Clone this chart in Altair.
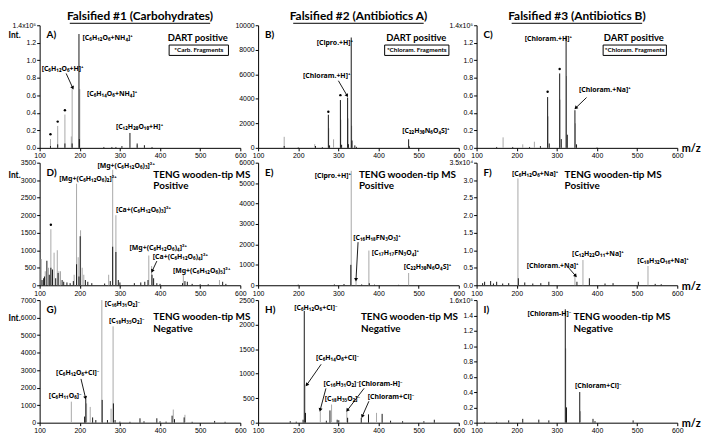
import math
import altair as alt
import pandas as pd

W, H = 203, 124

COL_TITLES = ["Falsified #1 (Carbohydrates)", "Falsified #2 (Antibiotics A)", "Falsified #3 (Antibiotics B)"]
TITLE_UNDERLINE = [142, 132, 132]
LETTERS = ["A)", "B)", "C)", "D)", "E)", "F)", "G)", "H)", "I)"]
X_TICKS = [100, 200, 300, 400, 500, 600]
INT_Y = [9, 12, 18]

# y axes: (max, ticks, format, top label)
A_axis = (1.4, [0, 0.2, 0.4, 0.6, 0.8, 1.0, 1.2, 1.4], ".1f", "1.4x10⁵")
B_axis = (10000, [0, 2000, 4000, 6000, 8000, 10000], "d", "")
C_axis = (1.4, [0, 0.2, 0.4, 0.6, 0.8, 1.0, 1.2, 1.4], ".1f", "1.4x10⁵")
D_axis = (3500, [0, 500, 1000, 1500, 2000, 2500, 3000, 3500], "d", "")
E_axis = (6000, [0, 1000, 2000, 3000, 4000, 5000, 6000], "d", "")
F_axis = (3.5, [0, 0.5, 1.0, 1.5, 2.0, 2.5, 3.0, 3.5], ".1f", "3.5x10⁴")
G_axis = (7000, [0, 1000, 2000, 3000, 4000, 5000, 6000, 7000], "d", "")
H_axis = (2500, [0, 500, 1000, 1500, 2000, 2500], "d", "")
I_axis = (1.6, [0, 0.2, 0.4, 0.6, 0.8, 1.0, 1.2, 1.4, 1.6], ".1f", "1.6x10⁵")

# peaks (m/z, intensity)
A_gray = [(127, 0.10), (145, 0.25), (163, 0.38), (179, 0.13), (181, 0.67), (200, 0.67), (343, 0.03)]
A_black = [(127, 0.02), (145, 0.04), (163, 0.05), (181, 0.05), (198, 1.30), (199, 0.10), (260, 0.01),
           (280, 0.01), (290, 0.01), (305, 0.02), (325, 0.17), (343, 0.05), (361, 0.03), (380, 0.01)]
B_gray = [(165, 900), (241, 300), (276, 1600), (288, 700), (306, 2300), (324, 2400), (333, 1800)]
B_black = [(165, 150), (200, 40), (243, 150), (260, 60), (275, 2700), (278, 200), (305, 3900), (308, 250),
           (323, 4100), (325, 300), (332, 9000), (334, 600), (341, 200), (345, 80), (475, 700), (477, 120)]
C_gray = [(166, 0.12), (215, 0.04), (244, 0.07), (278, 0.36), (308, 0.55), (324, 0.82), (346, 0.28)]
C_black = [(150, 0.01), (190, 0.01), (232, 0.01), (259, 0.02), (277, 0.58), (281, 0.05), (307, 0.85),
           (311, 0.10), (323, 1.28), (326, 0.15), (345, 0.43), (349, 0.04), (400, 0.005)]
D_gray = [(104, 750), (114, 400), (122, 500), (128, 1600), (136, 930), (144, 1000), (148, 400), (152, 400),
          (186, 300), (192, 2900), (196, 800), (202, 1570), (206, 500), (210, 300), (272, 300), (282, 3300),
          (290, 2000), (372, 850), (379, 550), (458, 300), (548, 150)]
D_black = [(106, 150), (110, 200), (112, 250), (118, 700), (124, 300), (128, 500), (132, 450), (140, 200),
           (146, 350), (156, 150), (160, 100), (168, 80), (176, 60), (184, 120), (192, 600), (198, 250),
           (201, 1400), (214, 150), (220, 100), (230, 60), (262, 50), (276, 120), (282, 1100), (290, 950),
           (296, 150), (300, 80), (336, 60), (352, 80), (362, 100), (370, 150), (380, 300), (384, 200),
           (392, 60), (400, 40), (456, 60), (462, 120), (468, 100), (480, 40), (500, 30), (520, 30),
           (556, 100), (564, 40)]
E_gray = [(332, 5600), (344, 250), (376, 1700), (475, 600)]
E_black = [(200, 30), (290, 40), (314, 60), (331, 1000), (358, 40), (377, 100), (390, 30), (450, 20)]
F_gray = [(203, 3.05), (345, 0.25), (365, 0.72), (527, 0.55)]
F_black = [(115, 0.06), (120, 0.10), (135, 0.12), (142, 0.05), (150, 0.10), (165, 0.05), (180, 0.06),
           (204, 0.20), (220, 0.08), (240, 0.05), (260, 0.06), (280, 0.10), (350, 0.10), (381, 0.20),
           (420, 0.05), (440, 0.06), (503, 0.10), (545, 0.04), (560, 0.03)]
G_gray = [(179, 1200), (217, 1100), (226, 900), (255, 7000), (278, 800), (283, 5500), (433, 750), (462, 450)]
G_black = [(212, 350), (215, 1350), (232, 300), (240, 150), (255.8, 1300), (269, 150), (283.8, 1100),
           (288, 150), (300, 60), (325, 50), (350, 250), (360, 80), (392, 250), (400, 80), (415, 60),
           (430, 400), (436, 200), (460, 300), (480, 50), (536, 100), (562, 50)]
H_gray = [(217, 780), (255, 230), (283, 370), (321, 230), (395, 200)]
H_black = [(180, 30), (195, 20), (212, 60), (215, 2280), (218, 200), (270, 40), (279, 250), (297, 60),
           (301, 50), (323, 100), (357, 100), (375, 170), (409, 180), (430, 40), (460, 30), (513, 30), (539, 60)]
I_gray = [(322, 0.97), (359, 0.15)]
I_black = [(120, 0.01), (150, 0.01), (180, 0.03), (215, 0.05), (255, 0.04), (280, 0.03), (321, 1.48),
           (324, 0.20), (357, 0.40), (390, 0.05), (395, 0.02), (490, 0.03)]

# peak labels (text, m/z, y)
A_labels = [("[C₆H₁₂O₆+NH₄]⁺", 207, 1.26), ("[C₆H₁₂O₆+H]⁺", 105, 0.90),
            ("[C₆H₁₄O₆+NH₄]⁺", 218, 0.62), ("[C₁₂H₂₀O₁₀+H]⁺", 290, 0.24)]
B_labels = [("[Cipro.+H]⁺", 246, 8570), ("[Chloram.+H]⁺", 212, 5870), ("[C₂₂H₃₀N₆O₄S]⁺", 459, 1350)]
C_labels = [("[Chloram.+H]⁺", 220, 1.24), ("[Chloram.+Na]⁺", 355, 0.655)]
D_labels = [("[Mg+(C₆H₁₂O₆)₂]²⁺", 149, 3028), ("[Mg+(C₆H₁₂O₆)₃]²⁺", 244, 3417),
            ("[Ca+(C₆H₁₂O₆)₃]²⁺", 290, 2140), ("[Mg+(C₆H₁₂O₆)₄]²⁺", 324, 1055),
            ("[Ca+(C₆H₁₂O₆)₄]²⁺", 382, 805), ("[Mg+(C₆H₁₂O₆)₅]²⁺", 432, 417)]
E_labels = [("[Cipro.+H]⁺", 241, 5333), ("[C₁₆H₁₈FN₃O₃]⁺", 337, 2333),
            ("[C₁₇H₁₇FN₃O₄]⁺", 383, 1571), ("[C₂₂H₃₀N₆O₄S]⁺", 463, 905)]
F_labels = [("[C₆H₁₂O₆+Na]⁺", 188, 3.19), ("[Chloram.+Na]⁺", 225, 0.56),
            ("[C₁₂H₂₂O₁₁+Na]⁺", 338, 0.89), ("[C₁₈H₃₂O₁₆+Na]⁺", 500, 0.69)]
G_labels = [("[C₁₆H₃₁O₂]⁻", 262, 6778), ("[C₁₈H₃₅O₂]⁻", 273, 5778),
            ("[C₆H₁₂O₆+Cl]⁻", 141, 2833), ("[C₆H₁₁O₆]⁻", 123, 1500)]
H_labels = [("[C₆H₁₂O₆+Cl]⁻", 190, 2341), ("[C₆H₁₄O₆+Cl]⁻", 244, 1310), ("[C₁₆H₃₁O₂]⁻", 263, 794),
            ("[C₁₈H₃₅O₂]⁻", 266, 476), ("[Chloram-H]⁻", 351, 794), ("[Chloram+Cl]⁻", 373, 516)]
I_labels = [("[Chloram-H]⁻", 227, 1.42), ("[Chloram+Cl]⁻", 345, 0.48)]

# arrows (x1, y1, x2, y2) in data units
A_arrows = [(166, 0.85, 182, 0.69)]
B_arrows = [(300, 5476, 321, 4300)]
C_arrows = [(374, 0.575, 348, 0.46)]
D_arrows = [(392, 690, 381, 420)]
E_arrows = [(349, 2110, 344, 300)]
F_arrows = [(330, 0.49, 346, 0.28)]
G_arrows = [(203, 2500, 214, 1450)]
H_arrows = [(257, 1191, 222, 780), (269, 700, 255, 270), (364, 700, 323, 260), (376, 437, 360, 140)]
I_arrows = []

# fragment markers (m/z, y)
A_stars = [(127, 0.155), (145, 0.30), (163, 0.43)]
B_stars = [(275, 2950), (305, 4300)]
C_stars = [(277, 0.64), (307, 0.90)]
D_stars = [(128, 1730)]

# panel notes
DART_TEXT = "DART positive"
BOX_TEXTS = ["*Carb. Fragments", "*Chloram. Fragments", "*Chloram. Fragments"]
TENG_TEXTS = ["TENG wooden-tip MS\nPositive", "TENG wooden-tip MS\nNegative"]

PANELS = [
    (A_axis, A_gray, A_black, A_labels, A_arrows, A_stars),
    (B_axis, B_gray, B_black, B_labels, B_arrows, B_stars),
    (C_axis, C_gray, C_black, C_labels, C_arrows, C_stars),
    (D_axis, D_gray, D_black, D_labels, D_arrows, D_stars),
    (E_axis, E_gray, E_black, E_labels, E_arrows, []),
    (F_axis, F_gray, F_black, F_labels, F_arrows, []),
    (G_axis, G_gray, G_black, G_labels, G_arrows, []),
    (H_axis, H_gray, H_black, H_labels, H_arrows, []),
    (I_axis, I_gray, I_black, I_labels, I_arrows, []),
]

# layout helpers (pixel placement of frame decorations)
DART_X = [160, 160, 159]
BOX_X = [(131, 191), (128, 193), (128, 192)]
TENG_X = [[115, 102, 89], [115, 104, 98]]
TENG_Y = [7, 12]

BOLD = "Lato"
LAB = "Noto Sans"


def build(i):
    row, col = divmod(i, 3)
    (ymax, ticks, fmt, top), gray, black, labels, arrows, stars = PANELS[i]
    xs = alt.Scale(domain=[100, 600], nice=False, zero=False)
    ys = alt.Scale(domain=[0, ymax], nice=False, zero=True)
    top_expr = f"'{top}'" if top else f"format(datum.value, '{fmt}')"
    yexpr = f"abs(datum.value - {ymax}) < 1e-6 ? {top_expr} : format(datum.value, '{fmt}')"
    ykw = dict(values=ticks, labelExpr=yexpr)
    if col == 0:
        ykw.update(title="Int.", titleAngle=0, titleX=-32, titleY=INT_Y[row], titleAlign="left",
                   titleBaseline="middle", titleFont=BOLD, titleFontWeight="bold", titleFontSize=8.5)
    else:
        ykw.update(title=None)
    xkw = dict(values=X_TICKS, format="d")
    if col == 2:
        xkw.update(title="m/z", titleX=W + 4, titleY=1, titleAlign="left", titleBaseline="middle",
                   titleFont=BOLD, titleFontWeight="bold", titleFontSize=11, titleAngle=0)
    else:
        xkw.update(title=None)
    xa = alt.Axis(**xkw)
    ya = alt.Axis(**ykw)

    def X(f):
        return alt.X(f, type="quantitative", scale=xs, axis=xa)

    def Y(f):
        return alt.Y(f, type="quantitative", scale=ys, axis=ya)

    rows = [(m, v, "g") for m, v in gray] + [(m, v, "k") for m, v in black]
    peaks = pd.DataFrame(rows, columns=["mz", "inten", "tone"])
    peaks["zero"] = 0
    layers = [
        alt.Chart(peaks).mark_rule(strokeWidth=1).encode(
            x=X("mz"), y=Y("inten"), y2=alt.Y2("zero:Q"),
            color=alt.Color("tone:N", scale=alt.Scale(domain=["g", "k"], range=["#a8a8a8", "#161616"]),
                            legend=None),
        )
    ]
    if labels:
        ldf = pd.DataFrame(labels, columns=["t", "mz", "y"])
        layers.append(alt.Chart(ldf).mark_text(align="left", baseline="middle", font=LAB, fontSize=7,
                                               fontWeight="bold", color="black").encode(
            x=X("mz"), y=Y("y"), text="t:N"))
    if arrows:
        px_x = W / 500.0
        px_y = H / ymax
        recs = []
        for x1, y1, x2, y2 in arrows:
            dx = (x2 - x1) * px_x
            dy = -(y2 - y1) * px_y
            ang = math.degrees(math.atan2(dx, -dy)) % 360
            recs.append((x1, y1, x2, y2, ang))
        adf = pd.DataFrame(recs, columns=["x1", "y1", "x2", "y2", "ang"])
        layers.append(alt.Chart(adf).mark_rule(strokeWidth=0.9, color="black").encode(
            x=X("x1"), y=Y("y1"), x2=alt.X2("x2:Q"), y2=alt.Y2("y2:Q")))
        layers.append(alt.Chart(adf).mark_point(shape="triangle", filled=True, size=16, color="black",
                                                opacity=1).encode(
            x=X("x2"), y=Y("y2"), angle=alt.Angle("ang:Q", scale=None)))
    if stars:
        sdf = pd.DataFrame(stars, columns=["mz", "y"])
        layers.append(alt.Chart(sdf).mark_point(shape="circle", filled=True, size=6, color="black",
                                                opacity=1).encode(x=X("mz"), y=Y("y")))

    one = pd.DataFrame({"t": [LETTERS[i]]})
    layers.append(alt.Chart(one).mark_text(align="left", baseline="middle", font=BOLD, fontSize=10,
                                           fontWeight="bold", color="black").encode(
        x=alt.value(7), y=alt.value(10), text="t:N"))

    if row == 0:
        ttl = pd.DataFrame({"t": [COL_TITLES[col]]})
        layers.append(alt.Chart(ttl).mark_text(align="center", baseline="middle", font=BOLD, fontSize=12,
                                               fontWeight="bold", color="black").encode(
            x=alt.value(W / 2), y=alt.value(-9), text="t:N"))
        uw = TITLE_UNDERLINE[col] / 2
        layers.append(alt.Chart(ttl).mark_rule(strokeWidth=1, color="black").encode(
            x=alt.value(W / 2 - uw), x2=alt.value(W / 2 + uw), y=alt.value(-2)))
        dart = pd.DataFrame({"t": [DART_TEXT]})
        layers.append(alt.Chart(dart).mark_text(align="center", baseline="middle", font=BOLD, fontSize=9.5,
                                                fontWeight="bold", color="black").encode(
            x=alt.value(DART_X[col]), y=alt.value(13), text="t:N"))
        bx1, bx2 = BOX_X[col]
        box = pd.DataFrame({"t": [BOX_TEXTS[col]]})
        layers.append(alt.Chart(box).mark_rect(fill="white", stroke="black", strokeWidth=1).encode(
            x=alt.value(bx1), x2=alt.value(bx2), y=alt.value(20), y2=alt.value(30.5)))
        layers.append(alt.Chart(box).mark_text(align="center", baseline="middle", font=BOLD, fontSize=6.5,
                                               fontWeight="bold", color="black").encode(
            x=alt.value((bx1 + bx2) / 2), y=alt.value(25.5), text="t:N"))
    else:
        note = pd.DataFrame({"t": [TENG_TEXTS[row - 1]]})
        layers.append(alt.Chart(note).mark_text(align="left", baseline="top", font=BOLD, fontSize=10,
                                                fontWeight="bold", color="black", lineBreak="\n",
                                                lineHeight=12).encode(
            x=alt.value(TENG_X[row - 1][col]), y=alt.value(TENG_Y[row - 1]), text="t:N"))

    return alt.layer(*layers).properties(width=W, height=H)


charts = [build(i) for i in range(9)]
chart = alt.concat(*charts, columns=3, spacing={"row": 15, "column": 18}, bounds="flush").properties(
    padding=0
).configure_view(strokeWidth=0).configure_axis(
    domainColor="black", tickColor="black", labelColor="black", labelFont="Liberation Sans",
    labelFontSize=7, tickSize=3, labelPadding=1, grid=False, domainWidth=1, tickWidth=1,
    labelFlush=False,
)

chart.save("out.html", embed_options={"renderer": "svg", "actions": False})
